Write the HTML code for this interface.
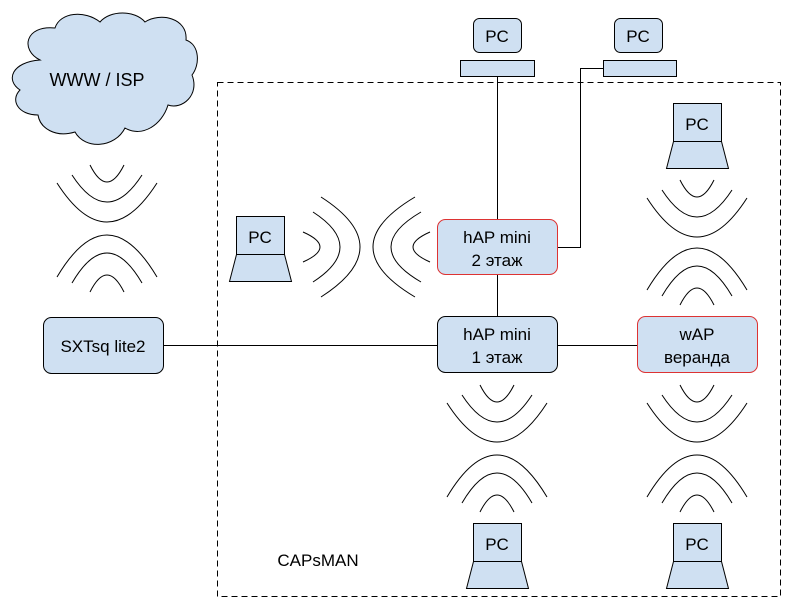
<!DOCTYPE html>
<html><head><meta charset="utf-8"><style>
html,body{margin:0;padding:0;background:#fff;width:800px;height:600px;overflow:hidden}
text{font-family:"Liberation Sans","Noto Sans CJK SC",sans-serif;font-size:17px;fill:#000}
</style></head><body>
<svg id="s" width="800" height="600" xmlns="http://www.w3.org/2000/svg">
<rect x="217.5" y="82.5" width="563" height="514" fill="none" stroke="#000" stroke-dasharray="6,4"/>
<path d="M40,60 C20,50 25,25 55,28 C60,12 85,10 100,22 C110,10 135,10 145,22 C160,12 188,18 186,40 C200,45 200,65 192,75 C200,95 182,110 168,105 C162,125 142,138 125,128 C115,148 85,150 75,132 C55,138 40,128 38,115 C18,115 10,100 20,90 C5,80 12,62 40,60 Z" fill="#cfe0f2" stroke="#000" stroke-width="1"/>
<text x="97" y="86" text-anchor="middle" style="font-size:18px">WWW / ISP</text>
<g stroke="#000" fill="none">
<line x1="497.5" y1="76" x2="497.5" y2="220"/>
<line x1="497.5" y1="275" x2="497.5" y2="316"/>
<line x1="163" y1="345.5" x2="437" y2="345.5"/>
<line x1="557" y1="345.5" x2="637" y2="345.5"/>
<polyline points="557,247.5 580.5,247.5 580.5,68.5 603,68.5"/>
</g>
<g id="w" stroke="#000" fill="none" stroke-width="1"></g>
<g stroke="#000" fill="#cfe0f2">
<rect x="473.5" y="18.5" width="48" height="34" rx="6"/>
<rect x="460.5" y="60.5" width="74" height="16"/>
<rect x="614.5" y="18.5" width="48" height="34" rx="6"/>
<rect x="603.5" y="60.5" width="73" height="16"/>
<rect x="236.5" y="216.5" width="48" height="38"/>
<polygon points="236.5,254.5 284.5,254.5 291.5,281.5 229.5,281.5"/>
<rect x="673.5" y="103.5" width="48" height="38"/>
<polygon points="673.5,141.5 721.5,141.5 728.5,168.5 666.5,168.5"/>
<rect x="473.5" y="523.5" width="48" height="38"/>
<polygon points="473.5,561.5 521.5,561.5 528.5,588.5 466.5,588.5"/>
<rect x="673.5" y="523.5" width="48" height="38"/>
<polygon points="673.5,561.5 721.5,561.5 728.5,588.5 666.5,588.5"/>
<rect x="437.5" y="219.5" width="120" height="55" rx="8" stroke="#d33"/>
<rect x="437.5" y="316.5" width="120" height="56" rx="8"/>
<rect x="637.5" y="316.5" width="120" height="56" rx="8" stroke="#d33"/>
<rect x="43.5" y="317.5" width="120" height="56" rx="8"/>
</g>
<g text-anchor="middle">
<text x="497" y="42">PC</text><text x="638" y="42">PC</text>
<text x="260" y="243">PC</text><text x="697" y="130">PC</text>
<text x="497" y="550">PC</text><text x="697" y="550">PC</text>
<text x="497" y="243">hAP mini</text><text x="497" y="266">2 этаж</text>
<text x="497" y="340">hAP mini</text><text x="497" y="363">1 этаж</text>
<text x="697" y="340">wAP</text><text x="697" y="363">веранда</text>
<text x="103" y="352">SXTsq lite2</text>
<text x="318" y="566">CAPsMAN</text>
</g>
</svg>
<script>
var g=document.getElementById('w'),d='';
function v(cx,y0,y1){
d+='M'+(cx-17)+' '+y0+' Q'+cx+' '+(y0+34)+' '+(cx+17)+' '+y0+
' M'+(cx-35)+' '+(y0+10)+' Q'+cx+' '+(y0+64)+' '+(cx+35)+' '+(y0+10)+
' M'+(cx-50)+' '+(y0+18)+' Q'+cx+' '+(y0+96)+' '+(cx+50)+' '+(y0+18)+
' M'+(cx-50)+' '+(y1+42)+' Q'+cx+' '+(y1-42)+' '+(cx+50)+' '+(y1+42)+
' M'+(cx-35)+' '+(y1+48)+' Q'+cx+' '+(y1-12)+' '+(cx+35)+' '+(y1+48)+
' M'+(cx-17)+' '+(y1+57)+' Q'+cx+' '+(y1+23)+' '+(cx+17)+' '+(y1+57)+' ';}
v(107,165,235);v(497,385,455);v(697,385,455);v(697,180,248);
var cy=247,x0=303,x1=373;
d+='M'+x0+' '+(cy-15)+' Q'+(x0+34)+' '+cy+' '+x0+' '+(cy+15)+
' M'+(x0+10)+' '+(cy-35)+' Q'+(x0+64)+' '+cy+' '+(x0+10)+' '+(cy+35)+
' M'+(x0+18)+' '+(cy-50)+' Q'+(x0+96)+' '+cy+' '+(x0+18)+' '+(cy+50)+
' M'+(x1+42)+' '+(cy-50)+' Q'+(x1-42)+' '+cy+' '+(x1+42)+' '+(cy+50)+
' M'+(x1+48)+' '+(cy-35)+' Q'+(x1-12)+' '+cy+' '+(x1+48)+' '+(cy+35)+
' M'+(x1+57)+' '+(cy-15)+' Q'+(x1+23)+' '+cy+' '+(x1+57)+' '+(cy+15);
var p=document.createElementNS('http://www.w3.org/2000/svg','path');p.setAttribute('d',d);g.appendChild(p);
</script>
</body></html>
